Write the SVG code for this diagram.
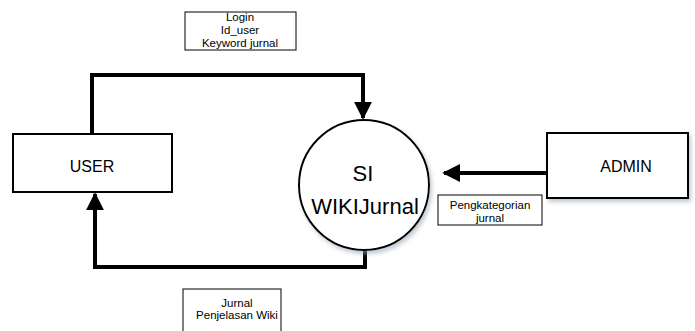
<svg xmlns="http://www.w3.org/2000/svg" width="695" height="331" viewBox="0 0 695 331">
  <style>
    .box { fill: #ffffff; stroke: #000000; stroke-width: 2; }
    .lbl { fill: #ffffff; stroke: #000000; stroke-width: 1; }
    .flow { fill: none; stroke: #000000; stroke-width: 4; stroke-linejoin: miter; }
    text { font-family: "Liberation Sans", Arial, sans-serif; fill: #000000; text-anchor: middle; }
    .big { font-size: 22px; }
    .mid { font-size: 16px; }
    .small { font-size: 11.5px; }
  </style>
  <defs>
    <marker id="arrow" viewBox="0 0 10 10" refX="9" refY="5" markerWidth="4.5" markerHeight="4.5" markerUnits="strokeWidth" orient="auto">
      <path d="M0,0 L10,5 L0,10 Z" fill="#000000"/>
    </marker>
    <filter id="shadow" x="-20%" y="-20%" width="150%" height="150%">
      <feDropShadow dx="2" dy="3" stdDeviation="2" flood-color="#9aa7b8" flood-opacity="0.6"/>
    </filter>
  </defs>

  <!-- data flows -->
  <g id="connectors">
    <path class="flow" d="M92,134 V75 H363 V118" marker-end="url(#arrow)"/>
    <path class="flow" d="M365,250 V267 H95 V194" marker-end="url(#arrow)"/>
    <path class="flow" d="M547,173 H444" marker-end="url(#arrow)"/>
  </g>

  <g id="user">
    <rect class="box" x="13" y="134" width="159" height="58"/>
    <text class="mid" x="92" y="172">USER</text>
  </g>

  <g id="si-wikijurnal">
    <circle class="box" cx="364" cy="185" r="65" filter="url(#shadow)"/>
    <text class="big" x="363" y="181">SI</text>
    <text class="big" x="365" y="214">WIKIJurnal</text>
  </g>

  <g id="admin">
    <rect class="box" x="547" y="133" width="141" height="65" filter="url(#shadow)"/>
    <text class="mid" x="626" y="172">ADMIN</text>
  </g>

  <g id="label-login">
    <rect class="lbl" x="185" y="12" width="111" height="38"/>
    <text class="small" x="240" y="21">Login</text>
    <text class="small" x="240" y="34">Id_user</text>
    <text class="small" x="240" y="47">Keyword jurnal</text>
  </g>

  <g id="label-kategori">
    <rect class="lbl" x="438" y="195" width="104" height="30"/>
    <text class="small" x="490" y="209">Pengkategorian</text>
    <text class="small" x="490" y="222">jurnal</text>
  </g>

  <g id="label-jurnal">
    <rect class="lbl" x="183" y="289" width="98" height="50"/>
    <text class="small" x="237" y="307">Jurnal</text>
    <text class="small" x="237" y="319">Penjelasan Wiki</text>
  </g>
</svg>
